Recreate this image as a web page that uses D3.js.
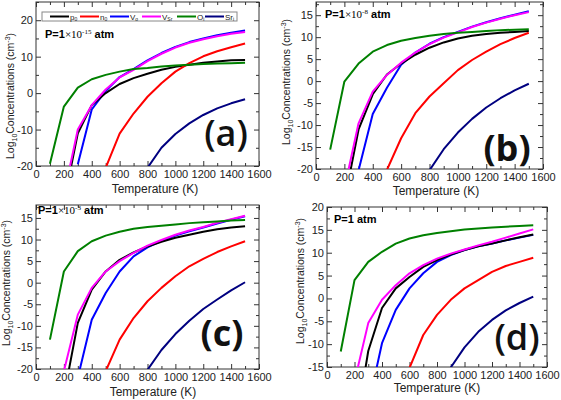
<!DOCTYPE html>
<html><head><meta charset="utf-8">
<script src="https://cdn.jsdelivr.net/npm/d3@7"></script>
<style>body{margin:0;background:#fff}svg{display:block;font-family:"Liberation Sans",Arial,sans-serif}</style>
</head><body><svg id="c" width="561" height="400"></svg>
<script>
// ---------- DATA ----------
const temperatures = [100,200,300,400,500,600,700,800,900,1000,1100,1200,1300,1400,1500];
const xTickValues = [0,200,400,600,800,1000,1200,1400,1600];
const seriesKeys = ["p0","n0","VO","VSr","Oi","Sri"];

// panel (a) P = 1e-15 atm
const a_p0  = [null,-30,-11,-3.3,0,2.5,4.1,5.3,6.4,7.2,7.8,8.3,8.7,9.0,9.1];
const a_n0  = [null,null,null,null,-20.5,-11.1,-5.6,-1.0,2.7,5.9,8.2,10.1,11.5,12.6,13.6];
const a_VO  = [null,null,-19.5,-4.5,0.6,4.4,6.6,9.0,11.0,12.7,14.0,15.0,15.9,16.6,17.2];
const a_VSr = [null,-28,-10,-3.3,1.0,4.3,6.4,8.8,10.8,12.5,13.8,14.8,15.6,16.3,16.8];
const a_Oi  = [-19.4,-3.7,1.5,3.8,5.0,5.9,6.6,6.9,7.3,7.6,7.8,8.0,8.1,8.2,8.3];
const a_Sri = [null,null,null,null,null,null,null,-20.5,-15.0,-11.2,-8.3,-6.0,-4.2,-2.8,-1.7];

// panel (b) P = 1e-8 atm
const b_p0  = [null,-27.4,-11,-3,1.5,4.0,6.0,7.6,8.8,9.7,10.3,10.7,11.0,11.2,11.4];
const b_n0  = [null,null,null,null,-20.2,-13,-7.3,-3.5,-0.5,2.5,4.8,6.7,8.4,9.8,11.0];
const b_VO  = [null,null,-20.3,-7.5,-1.5,3.7,6.5,8.5,10.0,11.2,12.4,13.4,14.3,15.1,15.9];
const b_VSr = [null,-24.5,-9.6,-2.4,1.4,4.2,6.5,8.4,9.9,11.1,12.3,13.3,14.2,15.0,15.7];
const b_Oi  = [-15.6,-0.1,4.0,6.7,8.2,9.2,9.8,10.3,10.7,11.0,11.2,11.4,11.6,11.7,11.8];
const b_Sri = [null,null,null,null,null,null,null,-20.3,-15.5,-11.7,-8.6,-6.0,-3.9,-2.1,-0.6];

// panel (c) P = 1e-3 atm
const c_p0  = [null,-26.3,-9.3,-1.6,2.6,5.3,7.0,8.4,9.5,10.4,11.1,11.8,12.4,12.8,13.1];
const c_n0  = [null,null,null,null,-20.5,-13.2,-8.2,-4.3,-1.2,1.5,3.8,5.5,7.1,8.4,9.6];
const c_VO  = [null,null,-22,-8.6,-2.4,2.6,6.1,8.2,9.7,10.9,11.9,12.8,13.7,14.6,15.4];
const c_VSr = [null,-20.5,-7.4,-1.2,2.6,5.0,6.9,8.6,9.9,11.1,12.1,12.9,13.9,14.7,15.5];
const c_Oi  = [-13.2,2.6,7.3,9.6,10.9,11.8,12.5,12.9,13.2,13.5,13.8,14.0,14.2,14.4,14.5];
const c_Sri = [null,null,null,null,null,null,null,-20.2,-15.6,-11.9,-8.8,-6.1,-3.9,-1.8,0.1];

// panel (d) P = 1 atm
const d_p0  = [null,-30,-11.5,-2.1,2.2,4.7,6.9,8.4,9.6,10.6,11.4,12.0,12.7,13.4,14.0];
const d_n0  = [null,null,null,null,null,-15.2,-8.0,-3.6,-0.3,2.2,4.0,5.8,7.1,8.0,8.9];
const d_VO  = [null,null,-23.5,-9.8,-2.5,2.2,5.5,8.0,9.5,10.6,11.4,12.0,12.7,13.3,13.9];
const d_VSr = [null,-18.2,-5.4,-0.3,2.9,5.5,7.3,8.7,9.8,10.7,11.6,12.4,13.3,14.2,15.1];
const d_Oi  = [-11.6,4.0,8.0,10.2,12.0,13.1,13.8,14.3,14.7,15.1,15.3,15.5,15.7,15.85,16.0];
const d_Sri = [null,null,null,null,null,null,null,null,-15.1,-10.7,-7.3,-4.7,-2.6,-1.0,0.4];

const yTicksA = [-20,-10,0,10,20];
const yTicksB = [-20,-15,-10,-5,0,5,10,15];
const yTicksC = [-20,-15,-10,-5,0,5,10,15];
const yTicksD = [-15,-10,-5,0,5,10,15,20];
const pressureExponents = ["-15","-8","-3",null];
const panelLetters = ["(a)","(b)","(c)","(d)"];

// ---------- STYLE ----------
const FONT = "'Liberation Sans', Arial, sans-serif";
const colors = {p0:"#000000",n0:"#ff0000",VO:"#0000ff",VSr:"#ff00ff",Oi:"#008000",Sri:"#000080"};
const drawOrder = ["VO","p0","n0","VSr","Oi","Sri"];
const legendItems = [
  {key:"p0", main:"p", sub:"0"},
  {key:"n0", main:"n", sub:"0"},
  {key:"VO", main:"V", sub:"o"},
  {key:"VSr", main:"V", sub:"Sr"},
  {key:"Oi", main:"O", sub:"i"},
  {key:"Sri", main:"Sr", sub:"i"}
];

const panels = [
  {data:{p0:a_p0,n0:a_n0,VO:a_VO,VSr:a_VSr,Oi:a_Oi,Sri:a_Sri}, yDom:[-20,25], yTicks:yTicksA, yMinorStep:5,
   l:36,r:259,t:2,b:166, letter:{x:226,y:146,w:"600"}, press:{x:45,y:38}, ylab:{x:14,y:96}, xlab:{x:155,y:193}, legend:true},
  {data:{p0:b_p0,n0:b_n0,VO:b_VO,VSr:b_VSr,Oi:b_Oi,Sri:b_Sri}, yDom:[-20,18], yTicks:yTicksB, yMinorStep:2.5,
   l:316,r:543,t:2,b:169, letter:{x:507,y:161,w:"bold"}, press:{x:325,y:18}, ylab:{x:290,y:82}, xlab:{x:436,y:195}},
  {data:{p0:c_p0,n0:c_n0,VO:c_VO,VSr:c_VSr,Oi:c_Oi,Sri:c_Sri}, yDom:[-20,18], yTicks:yTicksC, yMinorStep:2.5,
   l:36,r:259,t:205,b:369, letter:{x:222,y:346,w:"bold"}, press:{x:38,y:214}, ylab:{x:10,y:283}, xlab:{x:153,y:396}},
  {data:{p0:d_p0,n0:d_n0,VO:d_VO,VSr:d_VSr,Oi:d_Oi,Sri:d_Sri}, yDom:[-15,20], yTicks:yTicksD, yMinorStep:2.5,
   l:327,r:547,t:207,b:367, letter:{x:517,y:350,w:"600"}, press:{x:334,y:223}, ylab:{x:304,y:281}, xlab:{x:437,y:392}}
];

const svg = d3.select("#c");
const axisColor = "#333";

panels.forEach((p, i) => {
  const g = svg.append("g");
  const x = d3.scaleLinear().domain([0,1600]).range([p.l,p.r]);
  const y = d3.scaleLinear().domain(p.yDom).range([p.b,p.t]);
  const xMinor = d3.range(100,1600,100).filter(v => v % 200 !== 0);
  const yMinor = d3.range(p.yDom[0], p.yDom[1]+0.001, p.yMinorStep).filter(v => !p.yTicks.includes(v));
  const fmt = d => String(d);

  const styleAxis = sel => {
    sel.select(".domain").remove();
    sel.selectAll("line").attr("stroke", axisColor);
    sel.selectAll("text").attr("fill","#222").style("font-size","11px").style("font-family",FONT);
  };

  g.append("g").attr("transform",`translate(0,${p.b})`)
    .call(d3.axisBottom(x).tickValues(xTickValues).tickSize(-5).tickPadding(4).tickFormat(fmt)).call(styleAxis);
  g.append("g").attr("transform",`translate(0,${p.b})`)
    .call(d3.axisBottom(x).tickValues(xMinor).tickSize(-3).tickFormat("")).call(styleAxis);
  g.append("g").attr("transform",`translate(0,${p.t})`)
    .call(d3.axisTop(x).tickValues(xTickValues).tickSize(-5).tickFormat("")).call(styleAxis);
  g.append("g").attr("transform",`translate(0,${p.t})`)
    .call(d3.axisTop(x).tickValues(xMinor).tickSize(-3).tickFormat("")).call(styleAxis);
  g.append("g").attr("transform",`translate(${p.l},0)`)
    .call(d3.axisLeft(y).tickValues(p.yTicks).tickSize(-5).tickPadding(3).tickFormat(fmt)).call(styleAxis);
  g.append("g").attr("transform",`translate(${p.l},0)`)
    .call(d3.axisLeft(y).tickValues(yMinor).tickSize(-3).tickFormat("")).call(styleAxis);
  g.append("g").attr("transform",`translate(${p.r},0)`)
    .call(d3.axisRight(y).tickValues(p.yTicks).tickSize(-5).tickFormat("")).call(styleAxis);
  g.append("g").attr("transform",`translate(${p.r},0)`)
    .call(d3.axisRight(y).tickValues(yMinor).tickSize(-3).tickFormat("")).call(styleAxis);

  g.append("rect").attr("x",p.l).attr("y",p.t).attr("width",p.r-p.l).attr("height",p.b-p.t)
    .attr("fill","none").attr("stroke",axisColor).attr("stroke-width",1);

  const cid = "clip"+i;
  svg.append("clipPath").attr("id",cid).append("rect")
    .attr("x",p.l).attr("y",p.t).attr("width",p.r-p.l).attr("height",p.b-p.t);

  const line = d3.line().defined(d => d[1] !== null).x(d => x(d[0])).y(d => y(d[1]));
  const lg = g.append("g").attr("clip-path",`url(#${cid})`);
  drawOrder.forEach(k => {
    const pts = temperatures.map((t,j) => [t, p.data[k][j]]);
    lg.append("path").attr("d", line(pts)).attr("fill","none")
      .attr("stroke", colors[k]).attr("stroke-width", 2).attr("stroke-linejoin","round");
  });

  const pt = g.append("text").attr("x",p.press.x).attr("y",p.press.y)
    .style("font-size","11px").style("font-weight","bold").style("font-family",FONT).attr("fill","#000");
  if (pressureExponents[i]) {
    pt.append("tspan").text("P=1");
    pt.append("tspan").style("font-family","'Liberation Serif','DejaVu Serif',serif").style("font-weight","normal").text("×10");
    pt.append("tspan").attr("dy",-4).style("font-size","7px").style("font-family","'Liberation Serif',serif").style("font-weight","normal").text(pressureExponents[i]);
    pt.append("tspan").attr("dy",4).text(" atm");
  } else {
    pt.text("P=1 atm");
  }

  g.append("text").attr("x",p.letter.x).attr("y",p.letter.y).attr("text-anchor","middle")
    .style("font-family","'Open Sans',Arial,sans-serif").style("font-size","36px")
    .style("font-weight",p.letter.w).attr("fill","#111").text(panelLetters[i]);

  g.append("text").attr("x",p.xlab.x).attr("y",p.xlab.y).attr("text-anchor","middle")
    .style("font-size","12px").style("font-family",FONT).attr("fill","#222").text("Temperature (K)");
  const yl = g.append("text").attr("transform",`translate(${p.ylab.x},${p.ylab.y}) rotate(-90)`)
    .attr("text-anchor","middle").style("font-size","10.5px").style("font-family",FONT).attr("fill","#222");
  yl.append("tspan").text("Log");
  yl.append("tspan").attr("dy",3).style("font-size","7px").text("10");
  yl.append("tspan").attr("dy",-3).text("Concentrations (cm");
  yl.append("tspan").attr("dy",-4).style("font-size","7px").text("-3");
  yl.append("tspan").attr("dy",4).text(")");

  if (p.legend) {
    const lgd = g.append("g");
    lgd.append("rect").attr("x",42).attr("y",12).attr("width",195).attr("height",9)
      .attr("fill","#fff").attr("stroke","#888").attr("stroke-width",1);
    const lx = [50,80,110,142,177,205];
    legendItems.forEach((it,j) => {
      lgd.append("line").attr("x1",lx[j]).attr("x2",lx[j]+19).attr("y1",16.5).attr("y2",16.5)
        .attr("stroke",colors[it.key]).attr("stroke-width",2);
      const t = lgd.append("text").attr("x",lx[j]+20).attr("y",19.5).style("font-size","8px")
        .style("font-family",FONT).attr("fill","#222");
      t.append("tspan").text(it.main);
      t.append("tspan").attr("dy",1.5).style("font-size","5px").text(it.sub);
    });
  }
});
</script></body></html>
